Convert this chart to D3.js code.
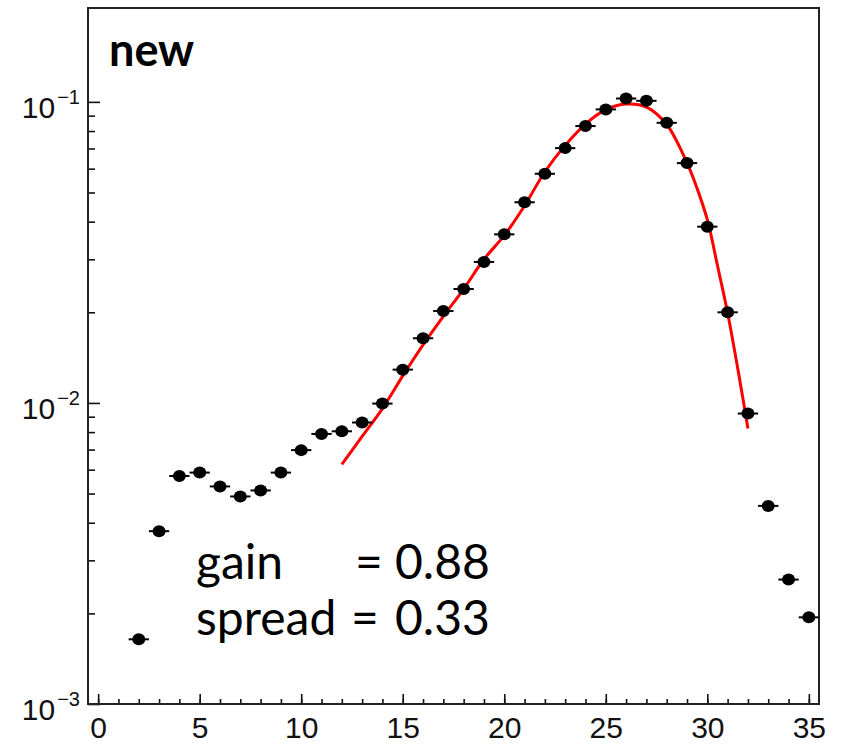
<!DOCTYPE html>
<html>
<head>
<meta charset="utf-8">
<script src="https://cdn.jsdelivr.net/npm/d3@7"></script>
<style>
  body { margin: 0; background: #fff; }
  svg { display: block; }
</style>
</head>
<body>
<div id="vis"></div>
<script>
const FRAME_WIDTH = 841;
const FRAME_HEIGHT = 746;
const PLOT = {left: 88, right: 819, top: 8, bottom: 704};

// data points (bin centre, content)
const binX = [2, 3, 4, 5, 6, 7, 8, 9, 10, 11, 12, 13, 14, 15, 16, 17, 18,
              19, 20, 21, 22, 23, 24, 25, 26, 27, 28, 29, 30, 31, 32, 33, 34, 35];
const binY = [0.00164, 0.00375, 0.00572, 0.00587, 0.00528, 0.00489, 0.00512, 0.00587,
              0.00697, 0.00789, 0.00805, 0.00861, 0.00995, 0.0129, 0.0164, 0.0202,
              0.0239, 0.0294, 0.0363, 0.0464, 0.0577, 0.0702, 0.0831, 0.0944,
              0.1026, 0.1008, 0.0852, 0.0626, 0.0385, 0.0200, 0.00922, 0.00455,
              0.00259, 0.00194];

// fit curve
const fitX = [12, 13, 14, 15, 16, 17, 18, 19, 20, 21, 22, 23, 24, 25, 26, 27,
              28, 29, 29.5, 30, 30.5, 31, 31.5, 32];
const fitY = [0.00625, 0.00774, 0.00958, 0.0123, 0.0156, 0.0194, 0.0239, 0.0300,
              0.0360, 0.0452, 0.0586, 0.0717, 0.0844, 0.0942, 0.0983, 0.0961,
              0.0841, 0.0627, 0.0515, 0.0406, 0.0286, 0.0199, 0.0130, 0.00823];

const xMajor = [0, 5, 10, 15, 20, 25, 30, 35];
const xMinor = d3.range(0, 36);
const yDecades = [0.001, 0.01, 0.1];
const yExponents = ["\u22123", "\u22122", "\u22121"];
const yMinor = [2, 3, 4, 5, 6, 7, 8, 9].flatMap(m => [m * 0.001, m * 0.01]);

const statLabels = ["gain", "spread"];
const statValues = ["0.88", "0.33"];

const svg = d3.select("#vis")
  .append("svg")
    .attr("width", FRAME_WIDTH)
    .attr("height", FRAME_HEIGHT);

const X_SCALE = d3.scaleLinear()
  .domain([-0.5, 35.5])
  .range([PLOT.left, PLOT.right]);

const Y_SCALE = d3.scaleLog()
  .domain([0.001, 0.205])
  .range([PLOT.bottom, PLOT.top]);

// axes, ticks pointing into the frame
function styleAxis(g) {
  g.select(".domain").remove();
  g.selectAll(".tick line").attr("stroke", "#111").attr("stroke-width", 1.6);
}

svg.append("g")
  .attr("transform", "translate(0," + PLOT.bottom + ")")
  .call(d3.axisBottom(X_SCALE).tickValues(xMinor).tickSize(-5).tickFormat(""))
  .call(styleAxis);

svg.append("g")
  .attr("transform", "translate(0," + PLOT.bottom + ")")
  .call(d3.axisBottom(X_SCALE).tickValues(xMajor).tickSize(-10).tickPadding(0))
  .call(styleAxis)
  .call(g => g.selectAll(".tick text")
    .attr("font-family", "'Liberation Sans', Arial, sans-serif")
    .attr("font-size", 30)
    .attr("fill", "#111")
    .attr("dy", null)
    .attr("y", 34));

svg.append("g")
  .attr("transform", "translate(" + PLOT.left + ",0)")
  .call(d3.axisLeft(Y_SCALE).tickValues(yMinor).tickSize(-7).tickFormat(""))
  .call(styleAxis);

const yMajorAxis = svg.append("g")
  .attr("transform", "translate(" + PLOT.left + ",0)")
  .call(d3.axisLeft(Y_SCALE).tickValues(yDecades).tickSize(-12).tickFormat(""))
  .call(styleAxis);

yMajorAxis.selectAll(".tick text").remove();
yMajorAxis.selectAll(".tick")
  .append("text")
    .attr("x", -8)
    .attr("y", (d, i) => i === 0 ? 15 : 16)
    .attr("text-anchor", "end")
    .attr("font-family", "'Liberation Sans', Arial, sans-serif")
    .attr("fill", "#111")
    .each(function (d, i) {
      const t = d3.select(this);
      t.append("tspan").attr("font-size", 30).text("10");
      t.append("tspan").attr("font-size", 20).attr("dx", 2).attr("dy", -14).text(yExponents[i]);
    });

// frame
svg.append("rect")
  .attr("x", PLOT.left)
  .attr("y", PLOT.top)
  .attr("width", PLOT.right - PLOT.left)
  .attr("height", PLOT.bottom - PLOT.top)
  .attr("fill", "none")
  .attr("stroke", "#222")
  .attr("stroke-width", 2);

// fit
svg.append("path")
  .datum(fitX.map((x, i) => [x, fitY[i]]))
  .attr("fill", "none")
  .attr("stroke", "#ff0000")
  .attr("stroke-width", 3)
  .attr("d", d3.line()
    .x(d => X_SCALE(d[0]))
    .y(d => Y_SCALE(d[1]))
    .curve(d3.curveCatmullRom));

// points with bin-width bars
const pts = svg.append("g");
pts.selectAll("line.bar")
  .data(binX)
  .enter()
  .append("line")
    .attr("class", "bar")
    .attr("x1", d => X_SCALE(d - 0.5))
    .attr("x2", d => X_SCALE(d + 0.5))
    .attr("y1", (d, i) => Y_SCALE(binY[i]))
    .attr("y2", (d, i) => Y_SCALE(binY[i]))
    .attr("stroke", "#000")
    .attr("stroke-width", 2);

pts.selectAll("ellipse")
  .data(binX)
  .enter()
  .append("ellipse")
    .attr("cx", d => X_SCALE(d))
    .attr("cy", (d, i) => Y_SCALE(binY[i]))
    .attr("rx", 6.5)
    .attr("ry", 6)
    .attr("fill", "#000");

// labels
svg.append("text")
  .attr("x", 109)
  .attr("y", 66)
  .attr("font-family", "Lato, 'Open Sans', sans-serif")
  .attr("font-weight", "bold")
  .attr("font-size", 45)
  .attr("fill", "#000")
  .text("new");

const stats = svg.append("g")
  .attr("font-family", "Lato, 'Open Sans', sans-serif")
  .attr("font-size", 48)
  .attr("fill", "#000");

statLabels.forEach((lab, i) => {
  const yBase = 579 + i * 56;
  stats.append("text").attr("x", 196).attr("y", yBase).text(lab);
  stats.append("text").attr("x", i === 0 ? 355 : 351).attr("y", yBase).text("=");
  stats.append("text").attr("x", 395).attr("y", yBase).text(statValues[i]);
});
</script>
</body>
</html>
